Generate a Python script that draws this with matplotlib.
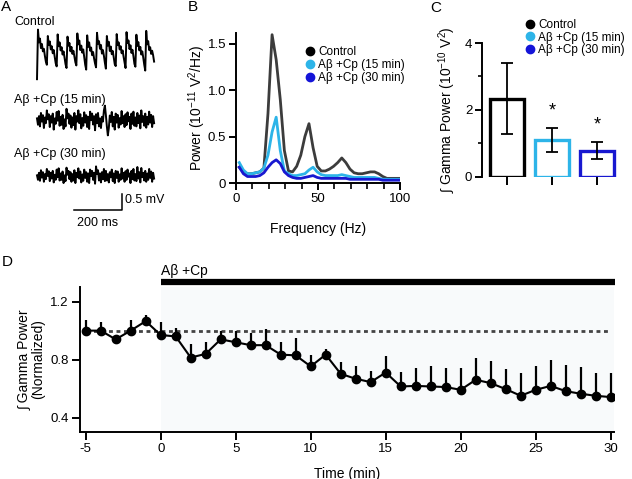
import numpy as np
import matplotlib
matplotlib.use("Agg")
import matplotlib.pyplot as plt
from matplotlib.lines import Line2D

plt.rcParams['font.family'] = ['Liberation Sans', 'DejaVu Sans']
plt.rcParams['mathtext.fontset'] = 'custom'
plt.rcParams['mathtext.rm'] = 'Liberation Sans'
plt.rcParams['mathtext.it'] = 'Liberation Sans:italic'
plt.rcParams['axes.unicode_minus'] = False
plt.rcParams['axes.linewidth'] = 1.4

# ---- data ----
# panel A: example LFP traces (mV), one sample ~4.1 ms
ctrl_trace = [
    -0.85, 0.70, 0.30, 0.42, 0.12, 0.25, 0.02, 0.10, -0.12, -0.30,
    -0.40, 0.50, 0.22, 0.33, 0.08, 0.18, -0.04, 0.06, -0.15, -0.35,
    -0.45, 0.55, 0.18, 0.30, 0.05, 0.15, -0.08, 0.02, -0.18, -0.38,
    -0.50, 0.48, 0.20, 0.28, 0.02, 0.16, -0.06, 0.04, -0.14, -0.32,
    -0.42, 0.58, 0.24, 0.36, 0.06, 0.20, -0.02, 0.08, -0.16, -0.40,
    -0.55, 0.52, 0.16, 0.30, 0.04, 0.14, -0.10, 0.00, -0.20, -0.36,
    -0.48, 0.60, 0.26, 0.34, 0.10, 0.22, -0.05, 0.06, -0.12, -0.34,
    -0.52, 0.50, 0.20, 0.32, 0.03, 0.17, -0.07, 0.03, -0.17, -0.38,
    -0.44, 0.56, 0.22, 0.30, 0.08, 0.18, -0.04, 0.05, -0.15, -0.33,
    -0.50, 0.62, 0.28, 0.36, 0.09, 0.21, -0.03, 0.07, -0.13, -0.37,
    -0.46, 0.54, 0.19, 0.31, 0.05, 0.16, -0.08, 0.02, -0.18, -0.40,
    -0.58, 0.66, 0.24, 0.34, 0.06, 0.15, -0.06, 0.04, -0.10, -0.30]
cp15_trace = [
    0.05, -0.15, 0.12, -0.20, 0.22, -0.05, 0.15, -0.25, 0.08, -0.10,
    0.30, 0.02, 0.18, -0.22, 0.12, -0.08, 0.20, -0.30, 0.05, -0.12,
    0.25, -0.02, 0.28, -0.18, 0.10, -0.15, 0.16, -0.28, 0.02, -0.20,
    0.35, 0.05, 0.20, -0.12, 0.14, -0.24, 0.08, -0.16, 0.22, -0.30,
    0.12, -0.05, 0.30, -0.10, 0.18, -0.26, 0.06, -0.18, 0.24, -0.08,
    0.15, -0.22, 0.10, -0.28, 0.26, 0.00, 0.20, -0.14, 0.12, -0.32,
    0.18, -0.10, 0.22, -0.20, 0.05, -0.25, 0.10, -0.05, 0.30, 0.45,
    0.15, -0.20, -0.48, -0.25, 0.14, -0.06, 0.25, -0.20, 0.10, -0.30,
    0.20, -0.08, 0.16, -0.24, 0.06, -0.14, 0.28, -0.10, 0.12, -0.22,
    0.18, -0.16, 0.24, -0.04, 0.10, -0.28, 0.20, -0.12, 0.26, -0.18,
    0.08, -0.20, 0.22, -0.10, 0.14, -0.26, 0.30, -0.06, 0.12, -0.18,
    0.20, -0.24, 0.10, -0.14, 0.26, -0.08, 0.16, -0.22, 0.12, -0.10]
cp30_trace = [
    0.02, -0.12, 0.10, -0.15, 0.18, -0.05, 0.12, -0.18, 0.06, -0.10,
    0.22, 0.00, 0.15, -0.16, 0.10, -0.08, 0.16, -0.20, 0.04, -0.12,
    0.20, -0.04, 0.24, -0.14, 0.08, -0.12, 0.14, -0.22, 0.02, -0.16,
    0.26, 0.04, 0.16, -0.10, 0.12, -0.18, 0.06, -0.14, 0.18, -0.22,
    0.10, -0.04, 0.24, -0.08, 0.14, -0.20, 0.05, -0.15, 0.20, -0.06,
    0.12, -0.18, 0.08, -0.22, 0.20, 0.00, 0.16, -0.12, 0.10, -0.24,
    0.30, 0.06, 0.18, -0.14, 0.08, -0.20, 0.12, -0.10, 0.22, -0.16,
    0.16, -0.14, 0.06, -0.20, 0.12, -0.04, 0.20, -0.16, 0.08, -0.22,
    0.16, -0.06, 0.14, -0.18, 0.05, -0.12, 0.24, -0.08, 0.10, -0.18,
    0.15, -0.12, 0.20, -0.02, 0.08, -0.22, 0.16, -0.10, 0.22, -0.14,
    0.06, -0.16, 0.28, -0.08, 0.12, -0.20, 0.25, -0.04, 0.10, -0.14,
    0.16, -0.18, 0.08, -0.12, 0.22, -0.06, 0.14, -0.18, 0.10, -0.08]
sample_ms = 4.1

# panel B: power spectra (10^-11 V^2/Hz)
freq = [2, 4.5, 7, 9.5, 12, 14.5, 17, 19.5, 22, 24.5,
        27, 29.5, 32, 34.5, 37, 39.5, 42, 44.5, 47, 49.5,
        52, 54.5, 57, 59.5, 62, 64.5, 67, 69.5, 72, 74.5,
        77, 79.5, 82, 84.5, 87, 89.5, 92, 94.5, 97, 99.5]
psd_ctrl = [0.17, 0.12, 0.10, 0.10, 0.11, 0.12, 0.16, 0.75, 1.60, 1.33,
            0.90, 0.35, 0.13, 0.12, 0.18, 0.30, 0.50, 0.64, 0.38, 0.18,
            0.13, 0.13, 0.15, 0.18, 0.22, 0.27, 0.22, 0.15, 0.11, 0.10,
            0.10, 0.11, 0.12, 0.12, 0.10, 0.07, 0.05, 0.05, 0.05, 0.05]
psd_15 = [0.22, 0.14, 0.10, 0.10, 0.11, 0.12, 0.16, 0.30, 0.55, 0.71,
          0.35, 0.13, 0.10, 0.08, 0.08, 0.09, 0.10, 0.14, 0.17, 0.12,
          0.09, 0.08, 0.08, 0.08, 0.08, 0.09, 0.08, 0.07, 0.06, 0.06,
          0.06, 0.06, 0.06, 0.06, 0.05, 0.04, 0.04, 0.04, 0.04, 0.04]
psd_30 = [0.17, 0.10, 0.07, 0.07, 0.07, 0.08, 0.11, 0.17, 0.22, 0.25,
          0.21, 0.12, 0.08, 0.06, 0.05, 0.05, 0.06, 0.07, 0.08, 0.06,
          0.05, 0.05, 0.05, 0.05, 0.05, 0.05, 0.05, 0.04, 0.04, 0.04,
          0.04, 0.04, 0.04, 0.04, 0.04, 0.03, 0.03, 0.03, 0.03, 0.03]

# panel C: integrated gamma power (10^-10 V^2)
groups = ['Control', 'A\u03b2 +Cp (15 min)', 'A\u03b2 +Cp (30 min)']
gamma_mean = [2.34, 1.11, 0.79]
gamma_sem = [1.05, 0.35, 0.25]
signif = ['', '*', '*']

# panel D: normalized gamma power over time
time_min = list(range(-5, 31))
norm_mean = [1.00, 1.00, 0.94, 1.00, 1.065, 0.97, 0.96, 0.815, 0.84, 0.94,
             0.92, 0.90, 0.90, 0.835, 0.83, 0.754, 0.835, 0.703, 0.669, 0.646,
             0.712, 0.616, 0.62, 0.616, 0.612, 0.593, 0.662, 0.639, 0.598, 0.552,
             0.593, 0.62, 0.584, 0.566, 0.552, 0.543]
norm_sem = [0.07, 0.06, 0.02, 0.075, 0.04, 0.09, 0.06, 0.095, 0.08, 0.06,
            0.08, 0.085, 0.11, 0.085, 0.12, 0.076, 0.039, 0.081, 0.089, 0.078,
            0.111, 0.101, 0.122, 0.138, 0.128, 0.152, 0.148, 0.149, 0.138, 0.156,
            0.165, 0.175, 0.177, 0.183, 0.16, 0.169]

line_colors = ['#3c3c3c', '#2db4e8', '#1818d0']
bar_edges = ['black', '#2db4e8', '#1818d0']
marker_colors = ['black', '#2db4e8', '#1414d8']

W, H = 632, 479
fig = plt.figure(figsize=(W / 100, H / 100), dpi=100)


def px_rect(l, t, r, b):
    return [l / W, 1 - b / H, (r - l) / W, (b - t) / H]


def style_ticks(ax):
    ax.tick_params(direction='out', length=5, width=1.4, labelsize=9.5, pad=2)
    ax.spines['top'].set_visible(False)
    ax.spines['right'].set_visible(False)


for letter, x, y in [('A', 1, 7), ('B', 188, 7), ('C', 430, 8), ('D', 2, 262)]:
    fig.text(x / W, 1 - y / H, letter, fontsize=11, va='center', ha='left')

# ---- A: traces ----
axA = fig.add_axes(px_rect(0, 0, 190, 240))
axA.axis('off')
axA.set_xlim((0 - 37) / 0.24, (190 - 37) / 0.24)
axA.set_ylim(-240 / 32, 0)
offsets = [-52 / 32, -120 / 32, -176 / 32]
label_y = [-22 / 32, -100 / 32, -154 / 32]
for tr, off, ly, name in zip([ctrl_trace, cp15_trace, cp30_trace], offsets, label_y, groups):
    t = np.arange(len(tr)) * sample_ms
    axA.plot(t, np.array(tr) + off, color='black', lw=1.4)
    axA.text(-96, ly, name, fontsize=9, va='center', ha='left')
# scale bar 200 ms / 0.5 mV
ybar = -210 / 32
axA.plot([154, 354, 354], [ybar, ybar, ybar + 0.5], color='black', lw=1.1)
axA.text(368, ybar + 0.3, '0.5 mV', fontsize=9, va='center', ha='left')
axA.text(254, -223 / 32, '200 ms', fontsize=9, va='center', ha='center')

# ---- B: spectra ----
axB = fig.add_axes(px_rect(236, 33.3, 400, 183))
for vals, c in zip([psd_ctrl, psd_15, psd_30], line_colors):
    axB.plot(freq, vals, color=c, lw=2.0)
axB.set_xlim(0, 100)
axB.set_ylim(0, 1.615)
axB.set_xticks([0, 50, 100])
axB.set_xticks(range(10, 100, 10), minor=True)
axB.set_yticks([0, 0.5, 1.0, 1.5])
axB.set_yticklabels(['0', '0.5', '1.0', '1.5'])
style_ticks(axB)
axB.tick_params(which='minor', direction='out', length=4, width=1.2)
axB.set_xlabel('Frequency (Hz)', fontsize=10)
axB.xaxis.set_label_coords(0.5, -0.26)
axB.set_ylabel(r'Power (10$^{\mathregular{-11}}$ V$^{\mathregular{2}}$/Hz)', fontsize=10, va='center')
axB.yaxis.set_label_coords(-0.238, 0.5)
handles = [Line2D([], [], ls='none', marker='o', ms=6, color=c) for c in marker_colors]
axB.legend(handles, groups, loc='upper left', bbox_to_anchor=(305 / W, 1 - 46 / H),
           bbox_transform=fig.transFigure, frameon=False, fontsize=8.5,
           handlelength=0.8, handletextpad=0.3, labelspacing=0.1,
           borderpad=0, borderaxespad=0)

# ---- C: bars ----
axC = fig.add_axes(px_rect(482, 43, 620, 177))
xpos = np.arange(len(groups))
axC.bar(xpos, gamma_mean, width=0.74, color='white', edgecolor=bar_edges,
        linewidth=2.4, zorder=2)
axC.errorbar(xpos, gamma_mean, yerr=gamma_sem, fmt='none', ecolor='black',
             elinewidth=1.3, capsize=4.5, capthick=1.3, zorder=3)
for x, m, s, star in zip(xpos, gamma_mean, gamma_sem, signif):
    if star:
        axC.text(x, m + s + 0.5, star, ha='center', va='center', fontsize=13)
axC.set_xlim(-0.556, 2.51)
axC.set_ylim(0, 4)
axC.set_yticks([0, 2, 4])
axC.set_yticks([1, 3], minor=True)
axC.set_xticks(xpos)
axC.set_xticklabels([])
style_ticks(axC)
axC.spines['bottom'].set_visible(False)
axC.tick_params(axis='x', length=6)
axC.tick_params(which='minor', direction='out', length=3, width=1.2)
axC.set_ylabel('\u222b Gamma Power (10$^{\\mathregular{-10}}$ V$^{\\mathregular{2}}$)',
               fontsize=10, va='center')
axC.yaxis.set_label_coords(-0.254, 0.5)
axC.legend(handles, groups, loc='upper left', bbox_to_anchor=(525 / W, 1 - 19 / H),
           bbox_transform=fig.transFigure, frameon=False, fontsize=8.5,
           handlelength=0.8, handletextpad=0.3, labelspacing=0.05,
           borderpad=0, borderaxespad=0)

# ---- D: time course ----
axD = fig.add_axes(px_rect(80, 287, 613.7, 432))
axD.axvspan(0, 30.2, color='#f8fafb', zorder=0, lw=0)
axD.plot([time_min[0], time_min[-1]], [1, 1], color='#444444', lw=2.0,
         dashes=(1.4, 1.3), zorder=1)
axD.errorbar(time_min, norm_mean, yerr=[np.zeros(len(norm_sem)), norm_sem],
             fmt='-o', color='black', ms=6, lw=1.5, elinewidth=1.6, capsize=0, zorder=3)
axD.plot([0, 30.3], [1.331, 1.331], color='black', lw=4.5, solid_capstyle='butt', clip_on=False)
axD.text(0, 1.41, 'A\u03b2 +Cp', fontsize=10, ha='left', va='center', clip_on=False)
axD.set_xlim(-5.38, 30.2)
axD.set_ylim(0.303, 1.30)
axD.set_xticks(range(-5, 31, 5))
axD.set_yticks([0.4, 0.8, 1.2])
style_ticks(axD)
axD.tick_params(length=6)
axD.set_xlabel('Time (min)', fontsize=10)
axD.xaxis.set_label_coords(0.5, -0.238)
axD.set_ylabel('\u222b Gamma Power\n(Normalized)', fontsize=10, va='center', linespacing=1.0)
axD.yaxis.set_label_coords(-0.092, 0.5)

fig.savefig('out.png', dpi=100)
